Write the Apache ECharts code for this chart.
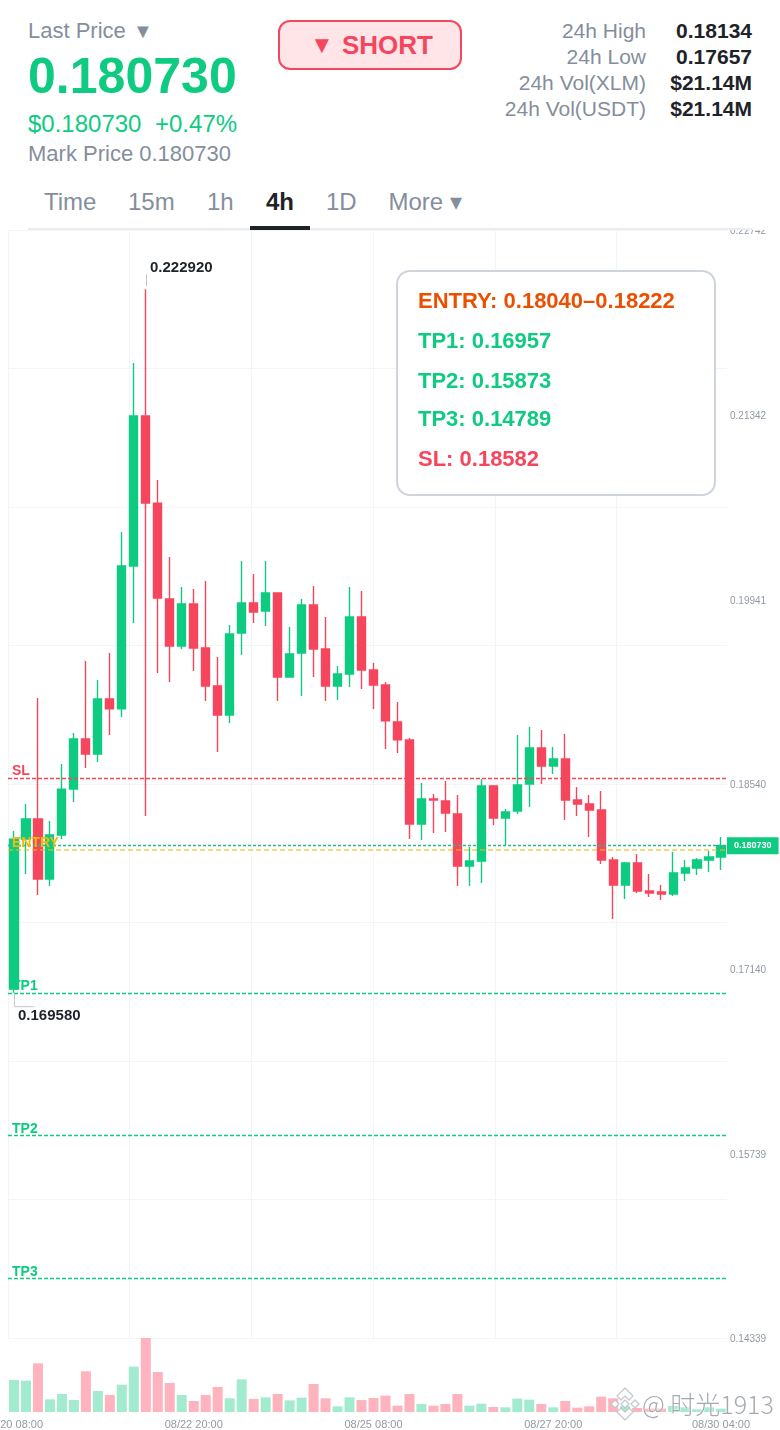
<!DOCTYPE html>
<html>
<head>
<meta charset="utf-8">
<script src="https://cdn.jsdelivr.net/npm/echarts@6/dist/echarts.min.js"></script>
<style>
html,body{margin:0;padding:0;background:#fff;width:780px;height:1430px;overflow:hidden;font-family:"Liberation Sans",Arial,sans-serif}
#page{position:relative;width:780px;height:1430px;overflow:hidden}
#chart{position:absolute;left:0;top:230px;width:780px;height:1200px}
.t{position:absolute;white-space:pre;line-height:1}
.gray{color:#848E9C}.green{color:#0ECB81}.red{color:#F6465D}.dark{color:#1E2329}
.b{font-weight:700}
.r{text-align:right}
#btn{position:absolute;left:278px;top:20px;width:180px;height:46px;border:2px solid #F6465D;border-radius:12px;background:#FFE5E8}
#rule{position:absolute;left:28px;top:228px;width:724px;height:2px;background:#EAECEF}
#tabbar{position:absolute;left:250px;top:226px;width:60px;height:4px;background:#1E2329}
#card{position:absolute;left:396px;top:270px;width:316px;height:222px;border:2px solid #CFD3DB;border-radius:14px;background:rgba(255,255,255,.92)}
#wm{position:absolute;left:610px;top:1386px;width:170px;height:36px;pointer-events:none}
</style>
</head>
<body>
<div id="page">
  <div id="chart"></div>
  <div class="t gray" style="left:28px;top:20px;font-size:22px">Last Price</div>
  <div class="t gray" style="left:133px;top:21px;font-size:20px">▼</div>
  <div class="t green b" style="left:28px;top:51px;font-size:50px;letter-spacing:.03px">0.180730</div>
  <div class="t green" style="left:28px;top:112px;font-size:24px">$0.180730</div>
  <div class="t green" style="left:155px;top:112px;font-size:24px">+0.47%</div>
  <div class="t gray" style="left:28px;top:143px;font-size:22px">Mark Price 0.180730</div>

  <div id="btn"></div>
  <div class="t red b" style="left:310px;top:33px;font-size:24px">▼</div>
  <div class="t red b" style="left:342px;top:32px;font-size:26px">SHORT</div>

  <div class="t gray r" style="right:134px;top:20px;font-size:21px">24h High</div>
  <div class="t gray r" style="right:134px;top:46px;font-size:21px">24h Low</div>
  <div class="t gray r" style="right:134px;top:72px;font-size:21px">24h Vol(XLM)</div>
  <div class="t gray r" style="right:134px;top:98px;font-size:21px">24h Vol(USDT)</div>
  <div class="t dark b r" style="right:28px;top:20px;font-size:21px">0.18134</div>
  <div class="t dark b r" style="right:28px;top:46px;font-size:21px">0.17657</div>
  <div class="t dark b r" style="right:28px;top:72px;font-size:21px">$21.14M</div>
  <div class="t dark b r" style="right:28px;top:98px;font-size:21px">$21.14M</div>

  <div class="t gray" style="left:44px;top:190px;font-size:24px">Time</div>
  <div class="t gray" style="left:128px;top:190px;font-size:24px">15m</div>
  <div class="t gray" style="left:207px;top:190px;font-size:24px">1h</div>
  <div class="t dark b" style="left:266px;top:190px;font-size:24px">4h</div>
  <div class="t gray" style="left:326px;top:190px;font-size:24px">1D</div>
  <div class="t gray" style="left:388.5px;top:190px;font-size:24px">More ▾</div>
  <div id="rule"></div>
  <div id="tabbar"></div>

  <div id="card"></div>
  <div class="t b" style="left:418px;top:289.5px;font-size:22px;color:#EA5000">ENTRY: 0.18040–0.18222</div>
  <div class="t b green" style="left:418px;top:330px;font-size:22px">TP1: 0.16957</div>
  <div class="t b green" style="left:418px;top:370px;font-size:22px">TP2: 0.15873</div>
  <div class="t b green" style="left:418px;top:408px;font-size:22px">TP3: 0.14789</div>
  <div class="t b red" style="left:418px;top:448px;font-size:22px">SL: 0.18582</div>

  <svg id="wm" viewBox="0 0 170 36">
    <g fill="#fff" stroke="#C4C7CC" stroke-width="1.4" stroke-linejoin="round" opacity=".95">
      <path d="M15 2 L23 10 L19 14 L15 10 L11 14 L7 10 Z"/>
      <path d="M15 34 L23 26 L19 22 L15 26 L11 22 L7 26 Z"/>
      <path d="M5 14 L9 18 L5 22 L1 18 Z"/>
      <path d="M25 14 L29 18 L25 22 L21 18 Z"/>
      <path d="M15 14 L19 18 L15 22 L11 18 Z"/>
    </g>
  </svg>
  <div class="t" style="left:642px;top:1391px;font-size:25px;font-family:'Noto Sans CJK SC','Liberation Sans',sans-serif;color:rgba(135,140,150,.75);text-shadow:0 0 2px #fff,0 0 2px #fff;font-weight:300">@ 时光1913</div>
</div>
<script>
var categories = [
 '08/20 08:00','08/20 12:00','08/20 16:00','08/20 20:00','08/21 00:00','08/21 04:00','08/21 08:00','08/21 12:00','08/21 16:00','08/21 20:00',
 '08/22 00:00','08/22 04:00','08/22 08:00','08/22 12:00','08/22 16:00','08/22 20:00','08/23 00:00','08/23 04:00','08/23 08:00','08/23 12:00',
 '08/23 16:00','08/23 20:00','08/24 00:00','08/24 04:00','08/24 08:00','08/24 12:00','08/24 16:00','08/24 20:00','08/25 00:00','08/25 04:00',
 '08/25 08:00','08/25 12:00','08/25 16:00','08/25 20:00','08/26 00:00','08/26 04:00','08/26 08:00','08/26 12:00','08/26 16:00','08/26 20:00',
 '08/27 00:00','08/27 04:00','08/27 08:00','08/27 12:00','08/27 16:00','08/27 20:00','08/28 00:00','08/28 04:00','08/28 08:00','08/28 12:00',
 '08/28 16:00','08/28 20:00','08/29 00:00','08/29 04:00','08/29 08:00','08/29 12:00','08/29 16:00','08/29 20:00','08/30 00:00','08/30 04:00'];
var shownDates = ['08/20 08:00','08/22 20:00','08/25 08:00','08/27 20:00','08/30 04:00'];
var opens = [.16985,.18123,.18275,.17820,.18154,.18502,.18882,.18768,.19186,.19110,
 .20194,.21332,.20671,.19944,.19587,.19906,.19572,.19284,.19064,.19686,
 .19913,.19853,.19989,.19352,.19534,.19898,.19564,.19284,.19375,.19807,
 .19405,.19291,.19011,.18875,.18237,.18427,.18412,.18313,.17918,.17956,
 .18525,.18283,.18336,.18540,.18813,.18677,.18730,.18419,.18389,.18343,
 .17964,.17774,.17941,.17729,.17721,.17706,.17866,.17903,.17964,.17987];
var closes = [.18122,.18275,.17820,.18154,.18502,.18882,.18768,.19186,.19110,.20194,
 .21332,.20671,.19951,.19587,.19906,.19572,.19284,.19064,.19678,.19913,
 .19845,.19989,.19352,.19526,.19898,.19564,.19284,.19375,.19807,.19405,
 .19291,.19019,.18875,.18237,.18427,.18419,.18320,.17918,.17956,.18525,
 .18283,.18328,.18533,.18813,.18677,.18730,.18419,.18389,.18343,.17964,
 .17774,.17941,.17729,.17714,.17706,.17866,.17903,.17964,.17987,.18073];
var lows = [.16958,.17858,.17698,.17767,.18123,.18404,.18662,.18708,.18913,.19049,
 .19762,.18298,.19382,.19314,.19564,.19398,.19170,.18784,.19003,.19519,
 .19762,.19739,.19170,.19352,.19208,.19352,.19170,.19178,.19276,.19261,
 .19110,.18806,.18776,.18123,.18116,.18169,.18176,.17767,.17767,.17789,
 .18230,.18078,.18313,.18366,.18540,.18616,.18267,.18298,.18138,.17934,
 .17517,.17668,.17714,.17684,.17661,.17691,.17805,.17850,.17873,.17888];
var highs = [.18184,.18389,.19193,.18260,.18692,.18928,.19473,.19330,.19534,.20451,
 .21734,.22292,.20846,.20262,.20035,.20019,.20080,.19504,.19746,.20232,
 .20133,.20232,.19995,.19731,.19944,.20042,.19807,.19436,.20035,.20004,
 .19458,.19314,.19163,.18890,.18548,.18465,.18563,.18457,.18063,.18578,
 .18533,.18351,.18913,.18973,.18950,.18821,.18920,.18518,.18457,.18487,
 .17987,.17949,.18009,.17858,.17774,.18025,.17964,.17979,.18033,.18138];
var volumes = [96,94,146,38,54,36,122,63,51,82,136,222,120,87,51,33,51,75,41,98,
 39,44,54,35,43,84,41,17,44,36,42,49,19,54,24,19,24,54,19,25,
 15,14,40,37,24,14,33,13,17,46,41,18,12,10,10,18,14,8,14,10];
var priceLabels = [0.14339,0.15739,0.17140,0.18540,0.19941,0.21342,0.22742];
var priceGrid = [0.14339,0.15389,0.16440,0.17490,0.18541,0.19591,0.20641,0.21692,0.22742];
var levelNames = ['SL','ENTRY','TP1','TP2','TP3'];
var levelPrices = [0.18582,0.18040,0.16957,0.15873,0.14789];
var lastPrice = 0.18073;
var extremes = [{idx:11,price:0.22292,text:'0.222920',kind:'high'},{idx:0,price:0.16958,text:'0.169580',kind:'low'}];

var GREEN='#0ECB81',RED='#F6465D',VG='#A2EBCE',VR='#FFB3BE',GRID='#F3F4F6',YEL='#F0B90B';
var candle = categories.map(function(c,i){return [opens[i],closes[i],lows[i],highs[i]];});
var volData = volumes.map(function(v,i){return {value:v,itemStyle:{color:closes[i]>=opens[i]?VG:VR}};});
var levelColor = {SL:RED,ENTRY:YEL,TP1:GREEN,TP2:GREEN,TP3:GREEN};
var lines = levelNames.map(function(n,i){
  var e = n==='ENTRY';
  return {yAxis:levelPrices[i],name:n,
    lineStyle:{color:e?'rgba(240,185,11,.55)':levelColor[n],type:e?[5,3]:[4,2],width:e?2:1.3},
    label:{show:true,formatter:n,position:'insideStartTop',distance:[4,0],color:levelColor[n],fontSize:14,fontWeight:'bold',fontFamily:'Liberation Sans'}};
});
lines.push({yAxis:lastPrice,name:'last',lineStyle:{color:'#2AB88A',type:[3,2],width:1.3},
  label:{show:true,position:'end',distance:0,formatter:'0.180730',color:'#fff',backgroundColor:GREEN,fontSize:9,fontWeight:'bold',padding:[4,7],fontFamily:'Liberation Sans'}});

var chart = echarts.init(document.getElementById('chart'),null,{renderer:'canvas'});
chart.setOption({
  animation:false,
  textStyle:{fontFamily:'Liberation Sans'},
  grid:[
    {left:8,top:0,width:719,height:1108,outerBoundsMode:'none'},
    {left:8,top:1108,width:719,height:74,outerBoundsMode:'none'},
    {left:8,top:0,width:608.5,height:1108,outerBoundsMode:'none'}
  ],
  xAxis:[
    {type:'category',gridIndex:0,data:categories,boundaryGap:true,axisLine:{show:false},axisTick:{show:false},axisLabel:{show:false},splitLine:{show:false}},
    {type:'category',gridIndex:1,data:categories,boundaryGap:true,axisLine:{show:false},axisTick:{show:false},splitLine:{show:false},
      axisLabel:{color:'#929AA5',fontSize:11,margin:7,hideOverlap:false,showMinLabel:true,showMaxLabel:true,
        interval:function(i,v){return shownDates.indexOf(v)>=0;}}},
    {type:'value',gridIndex:2,min:0,max:5,interval:1,axisLine:{show:false},axisTick:{show:false},axisLabel:{show:false},
      splitLine:{show:true,lineStyle:{color:GRID,width:1}}}
  ],
  yAxis:[
    {type:'value',gridIndex:0,position:'right',min:0.14339,max:0.22742,scale:true,axisLine:{show:false},
      axisTick:{show:false,customValues:priceGrid},
      splitLine:{show:true,lineStyle:{color:GRID,width:1}},
      axisLabel:{customValues:priceLabels,margin:3,showMinLabel:true,showMaxLabel:true,align:'left',
        rich:{p:{color:'#929AA5',fontSize:10,padding:[3,0,0,0],fontFamily:'Liberation Sans'}},
        formatter:function(v){return '{p|'+v.toFixed(5)+'}';}}},
    {type:'value',gridIndex:1,min:0,max:222,axisLine:{show:false},axisTick:{show:false},axisLabel:{show:false},splitLine:{show:false}},
    {type:'value',gridIndex:2,position:'left',min:0,max:1,axisLine:{show:false},axisTick:{show:false},axisLabel:{show:false},splitLine:{show:false}}
  ],
  series:[
    {type:'candlestick',name:'Price',xAxisIndex:0,yAxisIndex:0,data:candle,barWidth:8.6,z:3,
      itemStyle:{color:GREEN,color0:RED,borderColor:GREEN,borderColor0:RED,borderWidth:1.4},
      markLine:{silent:true,symbol:'none',precision:5,animation:false,z:6,data:lines}},
    {type:'bar',name:'Volume',xAxisIndex:1,yAxisIndex:1,data:volData,barWidth:10},
    {type:'custom',name:'Extremes',xAxisIndex:0,yAxisIndex:0,z:7,silent:true,clip:false,
      data:extremes.map(function(e){return [e.idx,e.price];}),
      renderItem:function(params,api){
        var e=extremes[params.dataIndex],p=api.coord([api.value(0),api.value(1)]);
        var x=Math.round(p[0])+.5,y=p[1],ch=[];
        var ls={stroke:'#C4C7CC',lineWidth:1};
        if(e.kind==='high'){
          ch.push({type:'line',shape:{x1:x,y1:y-15,x2:x,y2:y-3},style:ls});
          ch.push({type:'text',style:{x:x+3.5,y:y-21,text:e.text,fill:'#1E2329',font:'bold 15px "Liberation Sans"',textAlign:'left',textVerticalAlign:'middle'}});
        }else{
          ch.push({type:'polyline',shape:{points:[[x,y+2],[x,y+14],[x+20,y+14]]},style:{stroke:'#C4C7CC',lineWidth:1,fill:null}});
          ch.push({type:'text',style:{x:x+3.5,y:y+23,text:e.text,fill:'#1E2329',font:'bold 15px "Liberation Sans"',textAlign:'left',textVerticalAlign:'middle'}});
        }
        return {type:'group',children:ch};
      }}
  ]
});
</script>
</body>
</html>
